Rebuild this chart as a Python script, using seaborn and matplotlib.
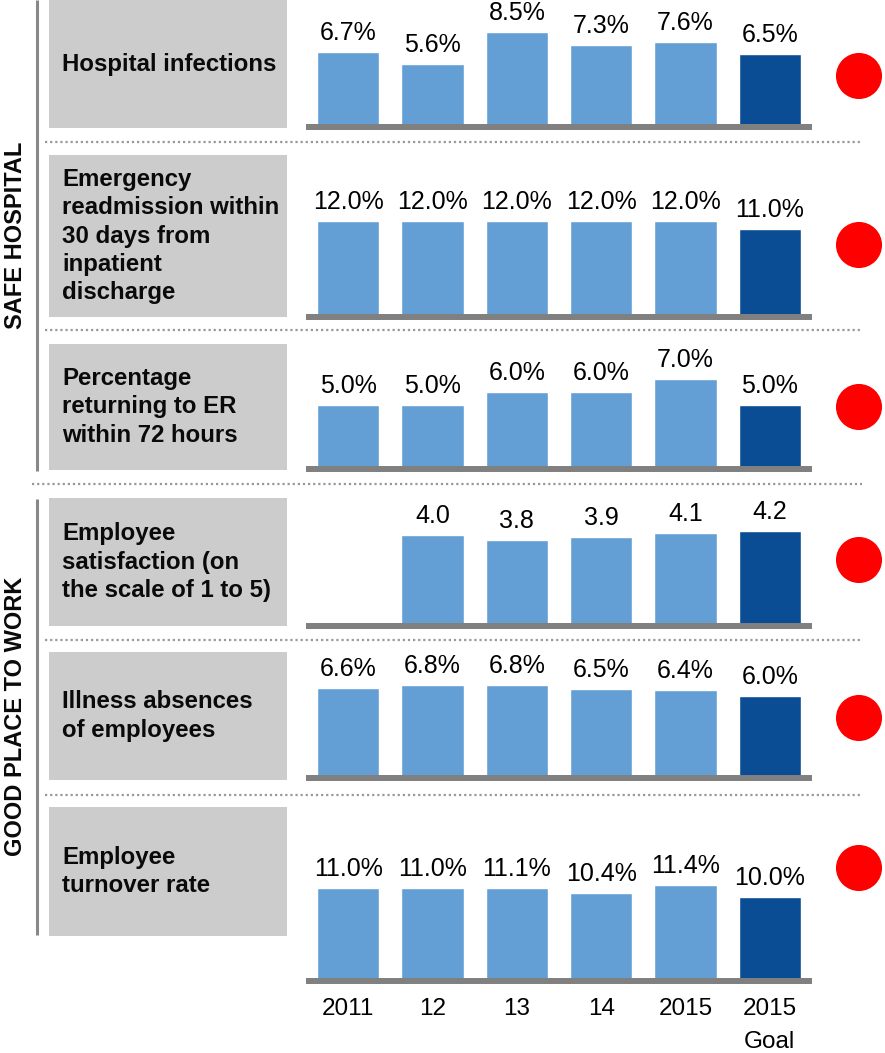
import numpy as np
import pandas as pd
import seaborn as sns
import matplotlib.pyplot as plt
from matplotlib.patches import Rectangle

# Data
years = ['2011', '12', '13', '14', '2015', '2015\nGoal']
kinds = ['actual'] * 5 + ['goal']

indicators = ['Hospital infections',
              'Emergency\nreadmission within\n30 days from\ninpatient\ndischarge',
              'Percentage\nreturning to ER\nwithin 72 hours',
              'Employee\nsatisfaction (on\nthe scale of 1 to 5)',
              'Illness absences\nof employees',
              'Employee\nturnover rate']

infections = [6.7, 5.6, 8.5, 7.3, 7.6, 6.5]
readmission = [12.0, 12.0, 12.0, 12.0, 12.0, 11.0]
er_return = [5.0, 5.0, 6.0, 6.0, 7.0, 5.0]
satisfaction = [np.nan, 4.0, 3.8, 3.9, 4.1, 4.2]
absences = [6.6, 6.8, 6.8, 6.5, 6.4, 6.0]
turnover = [11.0, 11.0, 11.1, 10.4, 11.4, 10.0]
series = [infections, readmission, er_return, satisfaction, absences, turnover]
units = ['%', '%', '%', '', '%', '%']
status = ['red'] * 6

groups = ['SAFE HOSPITAL', 'GOOD PLACE TO WORK']

# Layout (pixels of the 885x1053 canvas)
W, H = 885, 1053
boxes = [(0, 128), (155, 317), (344, 470), (498, 626), (652, 780), (807, 936)]
baselines = [127, 317, 469, 626, 778, 981]
ytops = [9.84, 13.75, 8.56, 4.84, 8.04, 13.06]
dot_ys = [142, 330, 484, 640, 795]
circle_ys = [76, 245, 407, 560, 718, 868]
group_spans = [(0, 471), (499, 935)]
group_centers = [235, 716]

palette = {'actual': '#639fd5', 'goal': '#0b4d94'}
status_colors = {'red': '#ff0000'}

sns.set_style('white')
plt.rcParams['font.family'] = ['Liberation Sans', 'DejaVu Sans']

fig = plt.figure(figsize=(8.85, 10.53), dpi=100)

# background layer: label boxes, separators, group labels, status dots
bg = fig.add_axes([0, 0, 1, 1])
bg.set_xlim(0, W)
bg.set_ylim(H, 0)
bg.axis('off')

for (top, bot), name in zip(boxes, indicators):
    bg.add_patch(Rectangle((49, top), 238, bot - top, color='#cccccc', lw=0))
    bg.text(62, (top + bot) / 2, name, fontsize=17.3, fontweight='bold',
            ha='left', va='center', linespacing=1.3, color='#0a0a0a')

for k, y in enumerate(dot_ys):
    x0 = 32 if k == 2 else 45
    bg.plot([x0, 862], [y, y], color='#999999', lw=1.6, linestyle=(0, (1, 1.3)))

for (y0, y1), yc, g in zip(group_spans, group_centers, groups):
    bg.plot([37, 37], [y0, y1], color='#888888', lw=2.2, solid_capstyle='butt')
    bg.text(16, yc, g, rotation=90, fontsize=17, fontweight='bold',
            ha='center', va='center', color='#0a0a0a')

bg.scatter([859] * len(status), circle_ys, s=1100,
           color=[status_colors[s] for s in status], lw=0, zorder=5)

# bar panels
for i, vals in enumerate(series):
    b = baselines[i]
    ax = fig.add_axes([306 / W, 1 - b / H, 506 / W, 110 / H])
    ax.set_facecolor('none')
    df = pd.DataFrame({'year': years, 'value': vals, 'kind': kinds})
    sns.barplot(data=df, x='year', y='value', hue='kind', palette=palette,
                order=years, hue_order=['actual', 'goal'], dodge=False,
                width=0.74, legend=False, saturation=1, ax=ax)
    ax.set_ylim(0, ytops[i])
    ax.set_xlim(-0.5, 5.5)
    ax.axhline(0, color='#808080', lw=4.3, clip_on=False, zorder=3,
               solid_capstyle='butt')
    for c in ax.containers:
        labels = ['' if not np.isfinite(v) else f'{v:.1f}{units[i]}' for v in c.datavalues]
        ax.bar_label(c, labels=labels, padding=5, fontsize=18, color='#000000')
    sns.despine(ax=ax, left=True, bottom=True)
    ax.set_yticks([])
    ax.set_xlabel('')
    ax.set_ylabel('')
    if i == len(series) - 1:
        ax.tick_params(axis='x', length=0, pad=12, labelsize=17.5, labelcolor='#000000')
        for lab in ax.get_xticklabels():
            lab.set_linespacing(1.65)
    else:
        ax.tick_params(axis='x', length=0, labelbottom=False)

fig.savefig('out.png', dpi=100)
